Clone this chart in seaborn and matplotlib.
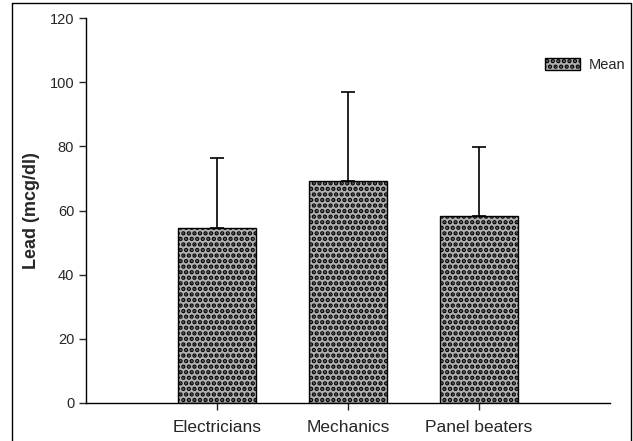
import matplotlib
matplotlib.use("Agg")
import matplotlib.pyplot as plt
import matplotlib.patches as mpatches
import seaborn as sns
import pandas as pd

# data
groups = ["Electricians", "Mechanics", "Panel beaters"]
means = [54.5, 69.2, 58.3]
sds = [21.8, 27.6, 21.4]

sns.set_style("ticks")
plt.rcParams["font.family"] = ["Liberation Sans", "DejaVu Sans"]
plt.rcParams["hatch.linewidth"] = 2.2
plt.rcParams["hatch.color"] = "black"

df = pd.DataFrame({"group": groups, "mean": means})

fig = plt.figure(figsize=(6.33, 4.41), dpi=100)
ax = fig.add_axes([86 / 633, 1 - 403 / 441, (610 - 86) / 633, (403 - 18) / 441])

sns.barplot(data=df, x="group", y="mean", ax=ax, color="#b0b0b0",
            edgecolor="black", linewidth=1, width=0.6, hatch="...",
            errorbar=None)

# upper-only error bars
ax.errorbar(range(len(groups)), means, yerr=[[0] * len(groups), sds],
            fmt="none", ecolor="black", elinewidth=1.2, capsize=5, capthick=1.2)

ax.set_xlim(-1, 3)
ax.set_ylim(0, 120)
ax.set_yticks(range(0, 121, 20))
ax.set_xlabel("")
ax.set_ylabel("Lead (mcg/dl)", fontsize=13, fontweight="bold", labelpad=7)
ax.tick_params(axis="y", labelsize=10.5, length=5, width=1, direction="out")
ax.tick_params(axis="x", labelsize=12.5, length=5, width=1, direction="out", pad=7)
for s in ["top", "right"]:
    ax.spines[s].set_visible(False)
for s in ["left", "bottom"]:
    ax.spines[s].set_linewidth(1)
    ax.spines[s].set_color("black")

leg_patch = mpatches.Patch(facecolor="#b0b0b0", edgecolor="black", hatch="...",
                           label="Mean")
ax.legend(handles=[leg_patch], loc="upper right", bbox_to_anchor=(1.055, 0.93),
          frameon=False, fontsize=10.5, handlelength=2.4, handleheight=0.8,
          handletextpad=0.6)

# outer frame of the original graphic
fig.add_artist(plt.Line2D([12 / 633, 12 / 633], [0, 1 - 3 / 441], color="black", lw=1))
fig.add_artist(plt.Line2D([12 / 633, 631 / 633], [1 - 3 / 441, 1 - 3 / 441], color="black", lw=1))
fig.add_artist(plt.Line2D([631 / 633, 631 / 633], [0, 1 - 3 / 441], color="black", lw=1))

fig.savefig("out.png", dpi=100)
